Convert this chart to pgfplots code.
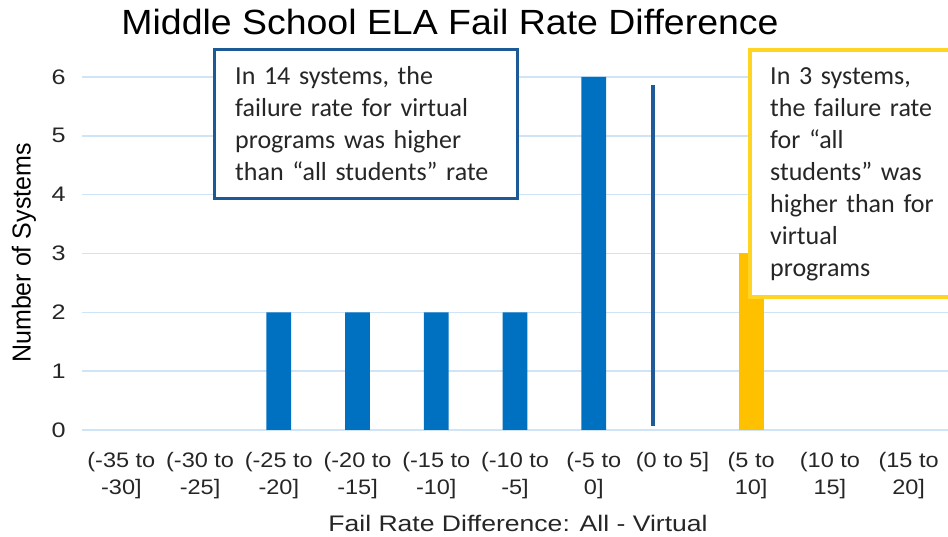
\documentclass[border=0pt]{standalone}
\usepackage{fontspec}
\setmainfont{Liberation Sans}
\newfontfamily\calfont{Carlito}
\usepackage{pgfplots}
\pgfplotsset{compat=1.18}

\definecolor{barblue}{HTML}{0070C0}
\definecolor{baryellow}{HTML}{FFC000}
\definecolor{gridblue}{HTML}{CFE4F7}
\definecolor{boxblue}{HTML}{1B5A97}
\definecolor{boxyellow}{HTML}{FFD423}
\definecolor{linedark}{HTML}{1F5B99}
\definecolor{txt}{HTML}{262626}

\begin{document}
\begin{tikzpicture}
\begin{axis}[
  at={(0,0)}, anchor=south west,
  scale only axis,
  width=866pt, height=353pt,
  xmin=-0.5, xmax=10.5,
  ymin=0, ymax=6,
  clip=false,
  axis line style={draw=none},
  tick style={draw=none},
  ymajorgrids,
  grid style={gridblue, line width=1.6pt},
  ytick={0,1,2,3,4,5,6},
  yticklabels={0,1,2,3,4,5,6},
  yticklabel style={font=\fontsize{21}{25}\selectfont, text=txt, xscale=1.2, xshift=-10pt},
  xtick={0,1,2,3,4,5,6,7,8,9,10},
  xticklabels={{(-35 to\\-30]}, {(-30 to\\-25]}, {(-25 to\\-20]}, {(-20 to\\-15]},
    {(-15 to\\-10]}, {(-10 to\\-5]}, {(-5 to\\0]}, {(0 to 5]}, {(5 to\\10]}, {(10 to\\15]},
    {(15 to\\20]}},
  xticklabel style={font=\fontsize{21}{27}\selectfont, text=txt, align=center,
    xscale=1.12, yshift=-19pt},
]
% bins on the negative side
\addplot[ybar, bar width=24.7pt, bar shift=0pt, fill=barblue, draw=none]
  coordinates {(2,2) (3,2) (4,2) (5,2) (6,6)};
% bins on the positive side
\addplot[ybar, bar width=24.7pt, bar shift=0pt, fill=baryellow, draw=none]
  coordinates {(8,3)};
% divider line
\addplot[linedark, line width=3.5pt, no marks]
  coordinates {(6.752,0.073) (6.752,5.864)};
\end{axis}

% title and axis labels
\node[anchor=base, font=\fontsize{35}{40}\selectfont, xscale=1.07] at (368pt,395pt)
  {Middle School ELA Fail Rate Difference};
\node[rotate=90, font=\fontsize{25}{30}\selectfont, yscale=1.04] at (-58pt,177pt)
  {Number of Systems};
\node[anchor=base, font=\fontsize{22.5}{26}\selectfont, text=txt, xscale=1.18] at (436pt,-102pt)
  {Fail Rate Difference: All - Virtual};

% left annotation
\fill[white] (132pt,380pt) rectangle (435pt,231pt);
\draw[boxblue, line width=3pt] (132pt,380pt) rectangle (435pt,231pt);
\node[anchor=base west, inner sep=0pt, text width=280pt, align=left,
  font=\calfont\fontsize{26}{32}\selectfont, text=txt] at (153pt,345pt)
  {In 14 systems, the\\failure rate for virtual\\programs was higher\\than “all students” rate};

% right annotation
\fill[white] (668pt,380pt) rectangle (870pt,133pt);
\draw[boxyellow, line width=3.5pt] (872pt,380pt) -- (668pt,380pt) -- (668pt,133pt) -- (872pt,133pt);
\node[anchor=base west, inner sep=0pt, text width=180pt, align=left,
  font=\calfont\fontsize{26}{32}\selectfont, text=txt] at (688pt,345pt)
  {In 3 systems,\\the failure rate\\for “all\\students” was\\higher than for\\virtual\\programs};

\pgfresetboundingbox
\path[use as bounding box] (-82pt,-107pt) rectangle (866pt,430pt);
\end{tikzpicture}
\end{document}
